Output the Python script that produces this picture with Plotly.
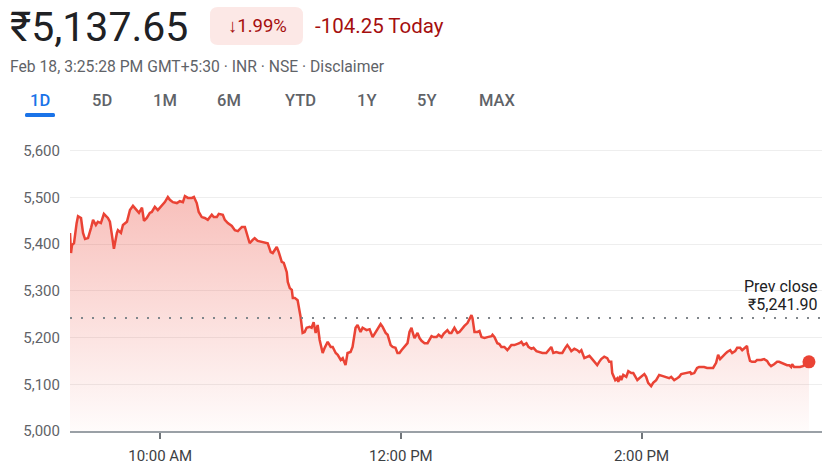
import pandas as pd
import plotly.graph_objects as go

# ---------------- data ----------------
session_date = "2025-02-18"
session_open = "09:15"
session_close = "15:30"

minutes_after_open = (
    [0, 0.5, 1, 2, 3.3, 4, 5.5, 6.5, 7.5, 9, 10.5, 11.5, 12.9, 13.9, 15.4, 16.9, 18.9, 19.9, 20.9, 21.9,
     23.4, 23.9, 25.4, 26.4, 28.4, 29.9, 31.4, 33.4, 34.4, 35.9, 36.9, 38.3, 39.8, 40.8, 42.3, 43.8, 45.8, 47.3, 48.8]
    + [49.8, 51.3, 53.3, 54.8, 56.3, 57.3, 58.8, 60.8, 61.8, 63.2, 64.2, 65.7, 67.2, 68.7, 70.7, 71.7, 73.2, 74.2,
       76.2, 77.2, 78.7, 80.7, 82.2, 83.7, 85.7, 87.2, 88.1, 89.6, 91.1, 92.1, 93.6, 95.6, 97.1, 98.6, 100.1, 101.1,
       103.1, 104.1]
    + [105.6, 106.6, 108.1, 108.6, 109.6, 110.6, 111.1, 112.1, 113.5, 115.0, 116.0, 117.0, 118.0, 119.5, 120.5,
       121.5, 122.5, 123.5, 124.5, 126.0, 127.0, 128.5, 130.0, 131.0, 132.5, 133.5, 135.0, 136.0, 137.4, 138.4,
       139.9, 140.9, 142.4, 143.4, 144.9, 145.9, 147.9, 149.4, 150.9, 152.4, 153.9]
    + [154.9, 155.9, 157.4, 158.4, 159.9, 160.9, 162.3, 163.3, 164.3, 165.3, 166.8, 168.3, 169.3, 170.3, 170.8,
       171.8, 173.3, 174.3, 175.3, 176.8, 178.3, 179.3, 180.3, 181.3, 182.8, 183.8, 185.3, 186.3, 188.2, 189.2,
       190.2, 191.7, 193.2, 194.2, 195.2, 196.7, 198.2, 199.2, 200.2, 200.7, 201.7, 203.2, 204.2, 205.2, 206.7]
    + [208.2, 210.2, 210.7, 211.7, 213.1, 214.1, 215.1, 216.6, 218.1, 219.1, 220.1, 221.6, 223.1, 224.1, 225.1,
       226.1, 227.6, 228.6, 230.1, 231.1, 232.6, 234.1, 235.6, 237.5, 238.5, 240.0, 241.0, 242.5, 244.0, 245.5,
       247.0, 248.0, 249.0, 250.0, 251.5, 253.0, 254.0, 255.0, 256.5, 258.0, 259.0, 260.0]
    + [261.5, 262.9, 263.9, 264.9, 266.4, 267.9, 268.9, 269.9, 270.4, 271.9, 272.9, 273.4, 274.4, 274.9, 275.9,
       277.4, 278.4, 279.9, 280.9, 281.9, 282.9, 283.9, 284.9, 286.4, 287.3, 288.3, 289.8, 290.8, 292.3, 293.8,
       295.3, 297.3, 298.8, 299.8, 301.3, 302.8, 303.8, 304.8, 306.8, 307.8, 309.3, 309.8, 311.3, 312.7, 313.7, 315.2]
    + [316.2, 317.7, 319.7, 320.7, 322.2, 323.2, 324.2, 325.2, 326.7, 327.7, 329.2, 330.2, 331.7, 332.7, 334.2,
       335.2, 336.6, 337.6, 338.1, 339.1, 340.1, 341.6, 342.6, 344.6, 346.1, 347.6, 348.6, 349.6, 351.1, 352.6,
       353.6, 354.6, 356.1, 357.6, 358.6, 359.6, 360.1, 361.1, 362.6, 364.0, 365.5, 367.0, 368.5]
)

prices = (
    [5424, 5381, 5398, 5402, 5445, 5460, 5456, 5424, 5411, 5413, 5435, 5452, 5441, 5448, 5445, 5465, 5456, 5448,
     5420, 5390, 5424, 5430, 5424, 5441, 5448, 5473, 5482, 5473, 5467, 5478, 5450, 5456, 5467, 5469, 5480, 5473,
     5484, 5490, 5501]
    + [5495, 5490, 5488, 5492, 5490, 5503, 5499, 5499, 5501, 5488, 5469, 5458, 5456, 5452, 5463, 5458, 5458, 5465,
       5463, 5452, 5445, 5439, 5430, 5428, 5437, 5437, 5424, 5402, 5409, 5413, 5407, 5405, 5405, 5402, 5383, 5381,
       5394, 5383]
    + [5362, 5360, 5340, 5319, 5306, 5302, 5285, 5285, 5280, 5244, 5210, 5212, 5221, 5223, 5221, 5233, 5210, 5227,
       5195, 5167, 5178, 5191, 5180, 5180, 5167, 5163, 5152, 5156, 5141, 5167, 5169, 5180, 5221, 5227, 5212, 5221,
       5216, 5218, 5201, 5212, 5223]
    + [5229, 5223, 5210, 5206, 5184, 5180, 5178, 5167, 5167, 5173, 5180, 5188, 5212, 5221, 5212, 5199, 5210, 5199,
       5193, 5188, 5188, 5195, 5203, 5201, 5201, 5206, 5201, 5208, 5216, 5210, 5210, 5221, 5210, 5212, 5218, 5225,
       5231, 5240, 5248, 5242, 5212, 5212, 5214, 5201, 5199]
    + [5201, 5203, 5206, 5201, 5188, 5186, 5180, 5180, 5173, 5178, 5184, 5184, 5186, 5188, 5191, 5184, 5188, 5180,
       5176, 5178, 5171, 5169, 5167, 5167, 5173, 5180, 5167, 5169, 5167, 5167, 5178, 5184, 5178, 5171, 5176, 5173,
       5169, 5173, 5156, 5159, 5161, 5156]
    + [5148, 5141, 5148, 5154, 5159, 5156, 5148, 5148, 5124, 5109, 5113, 5105, 5118, 5109, 5120, 5116, 5128, 5124,
       5124, 5116, 5109, 5113, 5116, 5122, 5116, 5103, 5096, 5103, 5109, 5120, 5118, 5116, 5113, 5116, 5109, 5113,
       5116, 5122, 5124, 5124, 5126, 5122, 5124, 5135, 5137, 5137]
    + [5137, 5135, 5135, 5135, 5146, 5163, 5154, 5159, 5165, 5169, 5173, 5167, 5171, 5178, 5178, 5173, 5178, 5182,
       5167, 5150, 5148, 5148, 5152, 5152, 5154, 5150, 5143, 5139, 5143, 5148, 5148, 5146, 5143, 5141, 5141, 5137,
       5143, 5137, 5137, 5137, 5139, 5143, 5148]
)
assert len(minutes_after_open) == len(prices)

prev_close = 5241.90
price_text = "₹5,137.65"
change_pct_text = "↓1.99%"
change_text = "-104.25 Today"
subtitle_text = "Feb 18, 3:25:28 PM GMT+5:30 · INR · NSE · Disclaimer"
y_tick_values = [5000, 5100, 5200, 5300, 5400, 5500, 5600]
x_tick_times = ["10:00", "12:00", "14:00"]
x_tick_labels = ["10:00 AM", "12:00 PM", "2:00 PM"]
range_tabs = ["1D", "5D", "1M", "6M", "YTD", "1Y", "5Y", "MAX"]

# ---------------- layout geometry (pixels) ----------------
W, H = 831, 466
PL, PR, PT, PB = 70, 822, 140, 431
Y_RANGE = [5000, 5623]
FONT = "Roboto, Arial, sans-serif"
RED = "#ea4335"


def X(px):
    return (px - PL) / (PR - PL)


def Y(py):
    return (PB - py) / (PB - PT)


def rrect(x0, y0, x1, y1, r):
    return (f"M {X(x0 + r)},{Y(y0)} L {X(x1 - r)},{Y(y0)} Q {X(x1)},{Y(y0)} {X(x1)},{Y(y0 + r)} "
            f"L {X(x1)},{Y(y1 - r)} Q {X(x1)},{Y(y1)} {X(x1 - r)},{Y(y1)} "
            f"L {X(x0 + r)},{Y(y1)} Q {X(x0)},{Y(y1)} {X(x0)},{Y(y1 - r)} "
            f"L {X(x0)},{Y(y0 + r)} Q {X(x0)},{Y(y0)} {X(x0 + r)},{Y(y0)} Z")


start = pd.Timestamp(f"{session_date} {session_open}")
times = start + pd.to_timedelta(minutes_after_open, unit="min")
tick_vals = [pd.Timestamp(f"{session_date} {t}") for t in x_tick_times]

fig = go.Figure()
fig.add_trace(go.Scatter(
    x=times, y=prices, mode="lines",
    line=dict(color=RED, width=2.5),
    fill="tozeroy",
    fillgradient=dict(type="vertical",
                      colorscale=[[0, "rgba(234,67,53,0.02)"], [1, "rgba(234,67,53,0.34)"]],
                      start=5000, stop=5505),
    hoverinfo="skip", showlegend=False,
))
fig.add_trace(go.Scatter(
    x=[times[-1]], y=[prices[-1]], mode="markers",
    marker=dict(color=RED, size=13), hoverinfo="skip", showlegend=False,
))

shapes = [
    dict(type="line", xref="paper", yref="y", x0=0, x1=1, y0=prev_close, y1=prev_close,
         line=dict(color="#80868b", width=2, dash="2px,9px"), layer="above"),
    dict(type="path", xref="paper", yref="paper", path=rrect(210, 7, 303, 45, 8),
         fillcolor="#fce8e6", line=dict(width=0)),
    dict(type="path", xref="paper", yref="paper", path=rrect(25, 113, 55, 117, 1.5),
         fillcolor="#1a73e8", line=dict(width=0)),
]

annotations = [
    dict(text=price_text, x=X(8), y=Y(27), font=dict(size=41, color="#202124", family=FONT),
         xanchor="left", yanchor="middle"),
    dict(text=change_pct_text, x=X(257), y=Y(26), font=dict(size=18.5, color="#a50e0e", family=FONT),
         xanchor="center", yanchor="middle"),
    dict(text=change_text, x=X(313), y=Y(26), font=dict(size=20.5, color="#a50e0e", family=FONT),
         xanchor="left", yanchor="middle"),
    dict(text=subtitle_text, x=X(8), y=Y(66), font=dict(size=15.7, color="#5f6368", family=FONT),
         xanchor="left", yanchor="middle"),
    dict(text="Prev close", x=X(820), y=Y(286), font=dict(size=16, color="#202124", family=FONT),
         xanchor="right", yanchor="middle"),
    dict(text="₹5,241.90", x=X(820), y=Y(304), font=dict(size=16, color="#202124", family=FONT),
         xanchor="right", yanchor="middle"),
]
tab_centers = [40, 102, 165, 229, 300, 366, 426, 497]
for label, cx in zip(range_tabs, tab_centers):
    annotations.append(dict(
        text=label, x=X(cx), y=Y(100), xanchor="center", yanchor="middle",
        font=dict(size=16.5, family=FONT, weight=500,
                  color="#1a73e8" if label == "1D" else "#5f6368"),
    ))
for a in annotations:
    a.update(xref="paper", yref="paper", showarrow=False)

fig.update_layout(
    width=W, height=H,
    margin=dict(l=PL, r=W - PR, t=PT, b=H - PB),
    paper_bgcolor="white", plot_bgcolor="white",
    font=dict(family=FONT, color="#5f6368", size=14),
    shapes=shapes, annotations=annotations,
    xaxis=dict(
        type="date", automargin=False,
        range=[pd.Timestamp(f"{session_date} {session_open}"), pd.Timestamp(f"{session_date} {session_close}")],
        tickvals=tick_vals, ticktext=x_tick_labels,
        showgrid=False, zeroline=False,
        showline=True, linecolor="#9aa0a6", linewidth=2,
        ticks="outside", ticklen=6, tickwidth=2, tickcolor="#70757a",
        tickfont=dict(size=15, color="#3c4043"), ticklabelstandoff=4,
        fixedrange=True,
    ),
    yaxis=dict(
        range=Y_RANGE, tickvals=y_tick_values, tickformat=",d", automargin=False,
        showgrid=True, gridcolor="#eeeeee", gridwidth=1,
        zeroline=False, showline=False,
        tickfont=dict(size=15, color="#5f6368"), ticklabelstandoff=9,
        fixedrange=True,
    ),
)

fig.write_html("out.html")
